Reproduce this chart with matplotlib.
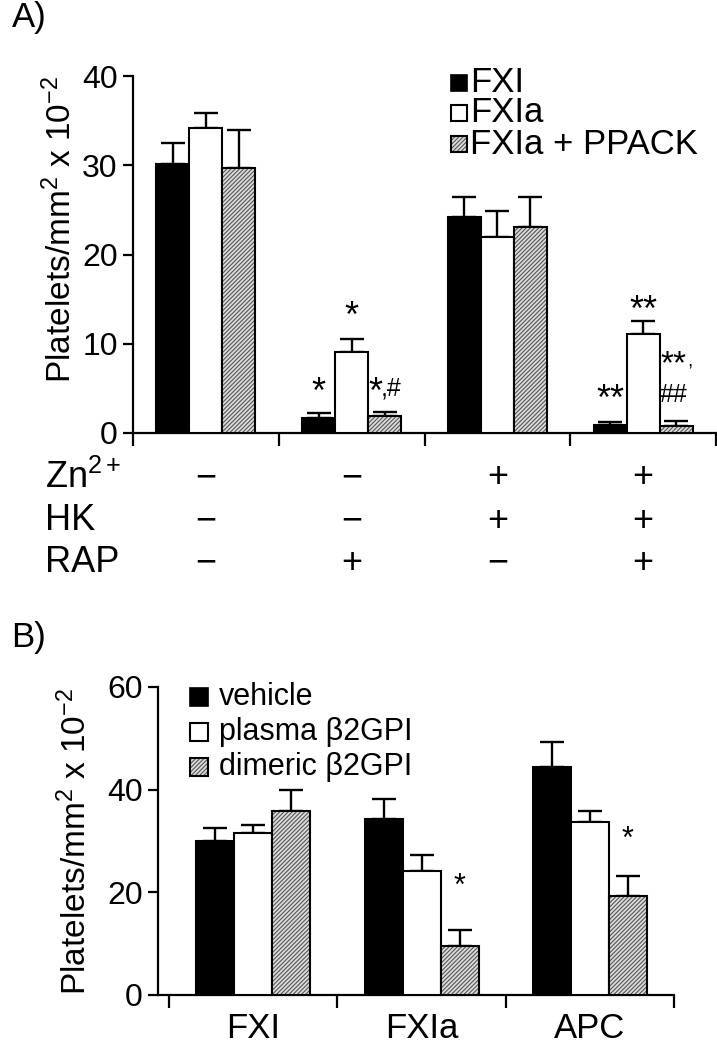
import matplotlib
matplotlib.use("Agg")
import numpy as np
import matplotlib.pyplot as plt
from matplotlib.patches import Rectangle

plt.rcParams['font.family'] = ['Liberation Sans', 'DejaVu Sans']
plt.rcParams['mathtext.fontset'] = 'custom'
plt.rcParams['mathtext.rm'] = 'Liberation Sans'
plt.rcParams['mathtext.it'] = 'Liberation Sans:italic'
plt.rcParams['hatch.linewidth'] = 0.8

# ---- panel A data
a_names = ['FXI', 'FXIa', 'FXIa + PPACK']
a_fxi = [30.1, 1.7, 24.2, 0.9]
a_fxi_err = [2.4, 0.5, 2.2, 0.3]
a_fxia = [34.2, 9.1, 22.0, 11.1]
a_fxia_err = [1.7, 1.4, 2.9, 1.4]
a_ppack = [29.7, 1.9, 23.1, 0.75]
a_ppack_err = [4.2, 0.5, 3.3, 0.55]
zn = ['−', '−', '+', '+']
hk = ['−', '−', '+', '+']
rap = ['−', '+', '−', '+']

# ---- panel B data
b_groups = ['FXI', 'FXIa', 'APC']
b_names = ['vehicle', 'plasma β2GPI', 'dimeric β2GPI']
b_veh = [30.0, 34.2, 44.5]
b_veh_err = [2.6, 4.0, 4.7]
b_pla = [31.6, 24.2, 33.7]
b_pla_err = [1.6, 3.1, 2.1]
b_dim = [35.8, 9.6, 19.3]
b_dim_err = [4.2, 3.1, 3.8]

W, H = 717, 1050
fig = plt.figure(figsize=(W / 100, H / 100), dpi=100)

def fig_ax(l, r, t, b):
    return fig.add_axes([l / W, 1 - b / H, (r - l) / W, (b - t) / H])

ylab = 'Platelets/mm$^{\\mathrm{2}}$ x 10$^{\\mathrm{-2}}$'
hatch_fc = '#dcdcdc'
hatch_ec = '#555555'
hatch_pat = '////////'

def draw_bars(ax, x, vals, errs, w, style):
    if style == 'black':
        ax.bar(x, vals, w, color='black', edgecolor='black', linewidth=1.5, zorder=3)
    elif style == 'white':
        ax.bar(x, vals, w, color='white', edgecolor='black', linewidth=1.5, zorder=3)
    else:
        ax.bar(x, vals, w, color=hatch_fc, edgecolor=hatch_ec, hatch=hatch_pat, linewidth=0, zorder=3)
        ax.bar(x, vals, w, fill=False, edgecolor='black', linewidth=1.5, zorder=4)
    ax.errorbar(x, vals, yerr=[np.zeros(len(vals)), errs], fmt='none', ecolor='black',
                elinewidth=1.7, capsize=8.5, capthick=1.7, zorder=2)

def style_axes(ax):
    for s in ['top', 'right']:
        ax.spines[s].set_visible(False)
    for s in ['left', 'bottom']:
        ax.spines[s].set_linewidth(1.6)
    ax.tick_params(axis='y', length=7, width=1.6, labelsize=23, pad=4)
    ax.tick_params(axis='x', length=9, width=1.6, labelbottom=False)

# ================= Panel A
axA = fig_ax(133, 716, 76, 433)
w = 0.226
xa = np.arange(4) + 0.5
draw_bars(axA, xa - w, a_fxi, a_fxi_err, w, 'black')
draw_bars(axA, xa, a_fxia, a_fxia_err, w, 'white')
draw_bars(axA, xa + w, a_ppack, a_ppack_err, w, 'hatch')
axA.set_xlim(0, 4)
axA.set_ylim(0, 40)
axA.set_xticks([0, 1, 2, 3, 4])
axA.set_yticks([0, 10, 20, 30, 40])
style_axes(axA)
axA.spines['left'].set_bounds(0, 40)
axA.set_ylabel(ylab, fontsize=24)
axA.yaxis.set_label_coords(-0.095, 0.57)

star_kw = dict(ha='center', va='center', fontsize=26, zorder=5)
axA.text(xa[1] - w, 4.4, '*', **star_kw)
axA.text(xa[1], 12.9, '*', **star_kw)
axA.text(1.66, 4.4, '*', **star_kw)
axA.text(1.70, 5.0, ',#', ha='left', va='center', fontsize=18, zorder=5)
axA.text(xa[3] - w, 3.6, '**', **star_kw)
axA.text(xa[3], 13.6, '**', **star_kw)
axA.text(3.71, 7.6, '**', ha='center', va='center', fontsize=24, zorder=5)
axA.text(3.80, 8.0, ',', ha='left', va='center', fontsize=14, zorder=5)
axA.text(3.71, 4.3, '##', ha='center', va='center', fontsize=18, zorder=5)

# condition rows under panel A
tr = axA.get_xaxis_transform()
rows = [('Zn$^{\\mathrm{2+}}$', zn, 478), ('HK', hk, 521), ('RAP', rap, 563)]
for name, signs, ypx in rows:
    fig.text(45 / W, 1 - ypx / H, name, fontsize=26, ha='left', va='center')
    yax = (433 - ypx) / (433 - 76)
    for xi, s in zip(xa, signs):
        axA.text(xi, yax, s, transform=tr, ha='center', va='center', fontsize=26,
                 clip_on=False)

# legend squares + labels
styles = ['black', 'white', 'hatch']
def legend_square(x, y, size, st):
    xy = (x / W, 1 - (y + size / 2) / H)
    if st == 'black':
        fig.patches.append(Rectangle(xy, size / W, size / H, transform=fig.transFigure,
                                     facecolor='black', edgecolor='black', lw=1.2))
    elif st == 'white':
        fig.patches.append(Rectangle(xy, size / W, size / H, transform=fig.transFigure,
                                     facecolor='white', edgecolor='black', lw=1.5))
    else:
        fig.patches.append(Rectangle(xy, size / W, size / H, transform=fig.transFigure,
                                     facecolor=hatch_fc, edgecolor=hatch_ec,
                                     hatch=hatch_pat, lw=0))
        fig.patches.append(Rectangle(xy, size / W, size / H, transform=fig.transFigure,
                                     fill=False, edgecolor='black', lw=1.5))

for name, st, ypx in zip(a_names, styles, [83, 113, 144]):
    legend_square(451, ypx, 16, st)
    fig.text(470 / W, 1 - ypx / H, name, fontsize=25, ha='left', va='center')

fig.text(12 / W, 1 - 18 / H, 'A)', fontsize=25, ha='left', va='center')

# ================= Panel B
axB = fig_ax(158, 674, 687, 995)
xb = np.arange(3) + 0.5
draw_bars(axB, xb - w, b_veh, b_veh_err, w, 'black')
draw_bars(axB, xb, b_pla, b_pla_err, w, 'white')
draw_bars(axB, xb + w, b_dim, b_dim_err, w, 'hatch')
axB.set_xlim(-0.066, 3)
axB.set_ylim(0, 60)
axB.set_xticks([0, 1, 2, 3])
axB.set_yticks([0, 20, 40, 60])
style_axes(axB)
axB.spines['left'].set_bounds(0, 60)
axB.set_xticks(xb, minor=True)
axB.set_xticklabels(b_groups, minor=True)
axB.tick_params(axis='x', which='minor', length=0, labelsize=25, pad=12, labelbottom=True)
axB.set_ylabel(ylab, fontsize=24)
axB.yaxis.set_label_coords(-0.125, 0.5)

axB.text(xb[1] + w, 21.0, '*', ha='center', va='center', fontsize=22)
axB.text(xb[2] + w, 30.2, '*', ha='center', va='center', fontsize=22)

for name, st, ypx in zip(b_names, styles, [697, 732, 767]):
    legend_square(190, ypx, 18, st)
    fig.text(219 / W, 1 - ypx / H, name, fontsize=22, ha='left', va='center')

fig.text(11 / W, 1 - 638 / H, 'B)', fontsize=25, ha='left', va='center')

fig.savefig('out.png', dpi=100)
